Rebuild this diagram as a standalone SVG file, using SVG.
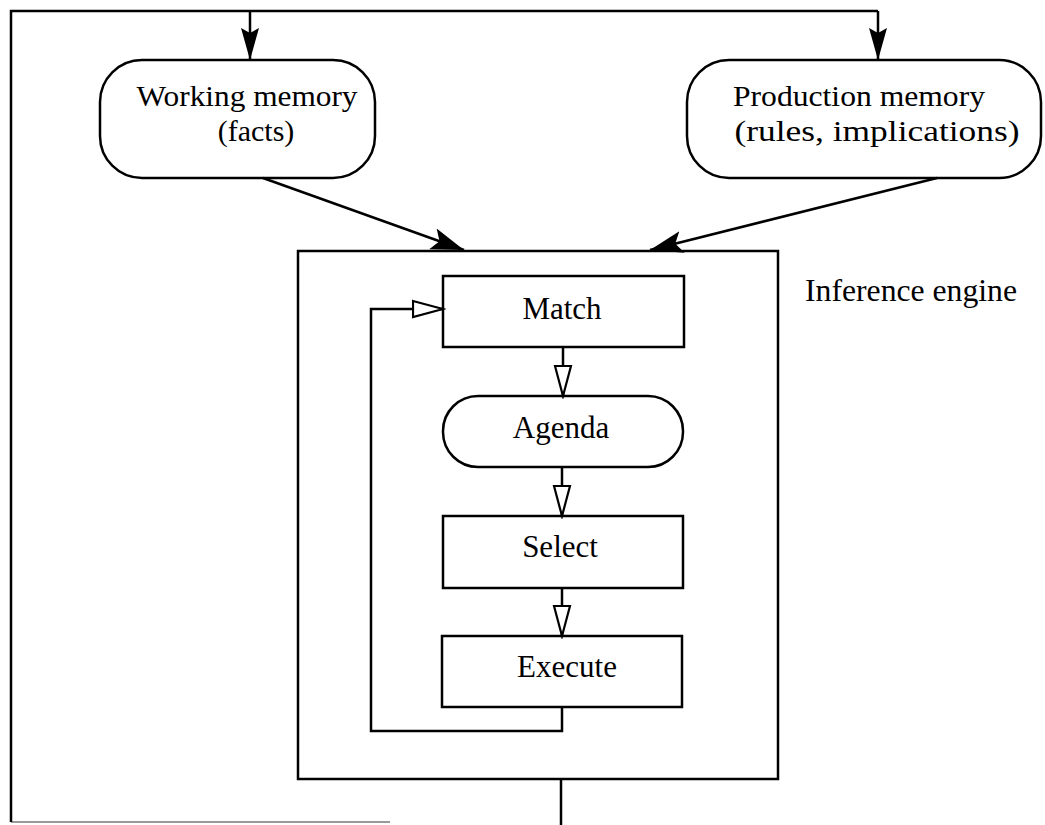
<svg xmlns="http://www.w3.org/2000/svg" width="1045" height="825" viewBox="0 0 1045 825">
  <style>
    .box { fill: #ffffff; stroke: #000000; stroke-width: 2.5; }
    .frame { fill: none; stroke: #000000; stroke-width: 2.5; }
    .line { fill: none; stroke: #000000; stroke-width: 2.5; }
    .faint { fill: none; stroke: #9a9a9a; stroke-width: 2; }
    .label { font-family: "Liberation Serif", "Times New Roman", serif; font-size: 31px; fill: #000000; text-anchor: middle; }
    .memo { font-size: 30px; }
  </style>
  <defs>
    <marker id="solid" markerUnits="userSpaceOnUse" markerWidth="36" markerHeight="26" refX="33" refY="13" orient="auto">
      <path d="M0,2 L33,13 L0,24 L7,13 Z" fill="#000000"/>
    </marker>
    <marker id="solidNarrow" markerUnits="userSpaceOnUse" markerWidth="34" markerHeight="20" refX="32" refY="10" orient="auto">
      <path d="M0,1 L32,10 L0,19 L5,10 Z" fill="#000000"/>
    </marker>
    <marker id="hollow" markerUnits="userSpaceOnUse" markerWidth="34" markerHeight="22" refX="31" refY="11" orient="auto">
      <path d="M1,3 L31,11 L1,19 Z" fill="#ffffff" stroke="#000000" stroke-width="2.2"/>
    </marker>
  </defs>

  <g id="working-memory">
    <rect class="box" x="100" y="60" width="275" height="118" rx="42" ry="42"/>
    <text class="label memo" x="247" y="106" textLength="221" lengthAdjust="spacingAndGlyphs">Working memory</text>
    <text class="label memo" x="256" y="141">(facts)</text>
  </g>

  <g id="production-memory">
    <rect class="box" x="687" y="60" width="354" height="118" rx="42" ry="42"/>
    <text class="label memo" x="859" y="106" textLength="252" lengthAdjust="spacingAndGlyphs">Production memory</text>
    <text class="label memo" x="877" y="141" textLength="285" lengthAdjust="spacingAndGlyphs">(rules, implications)</text>
  </g>

  <g id="inference-engine">
    <rect class="frame" x="298" y="251" width="480" height="528"/>
    <text class="label" x="805" y="301" style="text-anchor:start" textLength="212" lengthAdjust="spacingAndGlyphs">Inference engine</text>
  </g>

  <g id="match">
    <rect class="box" x="443" y="276" width="241" height="71"/>
    <text class="label" x="562" y="319">Match</text>
  </g>

  <g id="agenda">
    <rect class="box" x="443" y="396" width="240" height="71" rx="35" ry="35"/>
    <text class="label" x="561" y="438">Agenda</text>
  </g>

  <g id="select">
    <rect class="box" x="443" y="516" width="240" height="72"/>
    <text class="label" x="560" y="557">Select</text>
  </g>

  <g id="execute">
    <rect class="box" x="442" y="636" width="240" height="71"/>
    <text class="label" x="567" y="677">Execute</text>
  </g>

  <!-- connectors -->
  <g id="connectors">
    <!-- outer feedback loop from the engine output back to both memories -->
    <path class="faint" d="M390,822 L11,822"/>
    <path class="line" d="M11,822 L11,11 L878,11"/>
    <path class="line" d="M250,11 L250,60" marker-end="url(#solidNarrow)"/>
    <path class="line" d="M878,11 L878,60" marker-end="url(#solidNarrow)"/>
    <!-- memories feeding the engine -->
    <path class="line" d="M263,178 L464,250" marker-end="url(#solid)"/>
    <path class="line" d="M937,178 L650,250" marker-end="url(#solid)"/>
    <!-- engine output -->
    <path class="line" d="M561,779 L561,825"/>
    <!-- recognise-act cycle -->
    <path class="line" d="M563,347 L563,396" marker-end="url(#hollow)"/>
    <path class="line" d="M562,467 L562,516" marker-end="url(#hollow)"/>
    <path class="line" d="M562,588 L562,636" marker-end="url(#hollow)"/>
    <path class="line" d="M562,707 L562,731 L371,731 L371,309 L443,309" marker-end="url(#hollow)"/>
  </g>
</svg>
